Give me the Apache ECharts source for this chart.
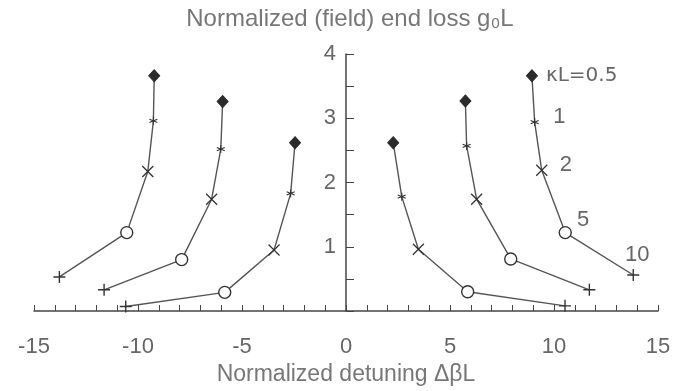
<!DOCTYPE html>
<html><head><meta charset="utf-8">
<script src="https://cdn.jsdelivr.net/npm/echarts@6/dist/echarts.min.js"></script>
<style>html,body{margin:0;padding:0;background:#fff}#c{width:677px;height:391px}</style>
</head><body><div id="c"></div>
<script>
const kappaLabels = ['κL=0.5', '1', '2', '5', '10'];
const markerKinds = ['diamond', 'asterisk', 'cross', 'circle', 'plus'];
const xTicks = [-15, -10, -5, 0, 5, 10, 15];
const yTicks = [1, 2, 3, 4];
const leftOuter  = [[-9.22, 3.66], [-9.26, 2.96], [-9.53, 2.17], [-10.54, 1.22], [-13.78, 0.53]];
const leftMiddle = [[-5.93, 3.26], [-6.02, 2.52], [-6.46, 1.74], [-7.90, 0.80], [-11.63, 0.33]];
const leftInner  = [[-2.45, 2.62], [-2.66, 1.83], [-3.46, 0.95], [-5.83, 0.29], [-10.59, 0.07]];
const rightInner = [[2.27, 2.62], [2.68, 1.78], [3.48, 0.96], [5.85, 0.30], [10.53, 0.08]];
const rightMiddle= [[5.74, 3.27], [5.80, 2.57], [6.28, 1.74], [7.92, 0.81], [11.70, 0.33]];
const rightOuter = [[8.94, 3.66], [9.07, 2.94], [9.41, 2.19], [10.54, 1.22], [13.81, 0.56]];

const ink = '#333';
const symbolDefs = {
  diamond:  {symbol: 'diamond', size: [11, 12], style: {color: '#2b2b2b', borderColor: '#2b2b2b', borderWidth: 1}},
  asterisk: {symbol: 'path://M5,0L5,10M0,3L10,7M0,7L10,3', size: [8, 8], style: {color: 'none', borderColor: ink, borderWidth: 1.1}},
  cross:    {symbol: 'path://M0,0L10,10M10,0L0,10', size: [11, 11], style: {color: 'none', borderColor: ink, borderWidth: 1.3}},
  circle:   {symbol: 'circle', size: 12, style: {color: '#fff', borderColor: ink, borderWidth: 1.4}},
  plus:     {symbol: 'path://M5,0L5,10M0,5L10,5', size: [12, 12], style: {color: 'none', borderColor: ink, borderWidth: 1.4}}
};
const labelPlacements = [
  {position: 'right', distance: 8, offset: [0, 0], fontSize: 20, fontFamily: 'DejaVu Sans'},
  {position: 'right', distance: 14, offset: [-2, -5]},
  {position: 'right', distance: 12, offset: [-2, -5]},
  {position: 'right', distance: 6, offset: [-1, -13]},
  {position: 'top', distance: 8, offset: [4, 7]}
];
function makeSeries(pts, withLabels) {
  return {
    type: 'line',
    data: pts.map((p, i) => {
      const d = symbolDefs[markerKinds[i]];
      const item = {value: p, symbol: d.symbol, symbolSize: d.size, itemStyle: d.style};
      if (withLabels) {
        item.label = Object.assign({show: true, formatter: kappaLabels[i], color: '#666', fontSize: 22, fontFamily: 'Liberation Sans'}, labelPlacements[i]);
      }
      return item;
    }),
    lineStyle: {color: '#555', width: 1.4},
    showAllSymbol: true, animation: false, z: 3
  };
}
const chart = echarts.init(document.getElementById('c'), null, {renderer: 'canvas'});
chart.setOption({
  animation: false,
  title: {
    text: 'Normalized (field) end loss g₀L', left: 345, top: 2, textAlign: 'center',
    textStyle: {color: '#777', fontSize: 24, fontWeight: 'normal', fontFamily: 'Liberation Sans'}
  },
  grid: {left: 34, right: 19, top: 54, bottom: 80, containLabel: false, outerBoundsMode: 'none'},
  xAxis: {
    type: 'value', min: -15, max: 15, interval: 1,
    name: 'Normalized detuning ΔβL', nameLocation: 'middle', nameGap: 52,
    nameTextStyle: {color: '#777', fontSize: 23, fontFamily: 'Liberation Sans'},
    axisLine: {show: true, onZero: false, lineStyle: {color: '#444', width: 1.5}},
    axisTick: {show: true, inside: true, length: 6, lineStyle: {color: '#444'}},
    axisLabel: {color: '#666', fontSize: 22, margin: 25, fontFamily: 'Liberation Sans', showMinLabel: true, showMaxLabel: true,
      interval: 0, formatter: v => xTicks.includes(v) ? String(v) : ''},
    splitLine: {show: false}
  },
  yAxis: {
    type: 'value', min: 0, max: 4, interval: 0.5, position: 'left', offset: -312,
    axisLine: {show: true, onZero: false, lineStyle: {color: '#444', width: 1.5}},
    axisTick: {show: true, inside: true, length: 8, lineStyle: {color: '#444'}},
    axisLabel: {color: '#666', fontSize: 22, margin: 10, fontFamily: 'Liberation Sans', interval: 0,
      formatter: v => yTicks.includes(v) ? String(v) : ''},
    splitLine: {show: false}
  },
  series: [
    makeSeries(leftOuter, false), makeSeries(leftMiddle, false), makeSeries(leftInner, false),
    makeSeries(rightInner, false), makeSeries(rightMiddle, false), makeSeries(rightOuter, true)
  ]
});
</script></body></html>
